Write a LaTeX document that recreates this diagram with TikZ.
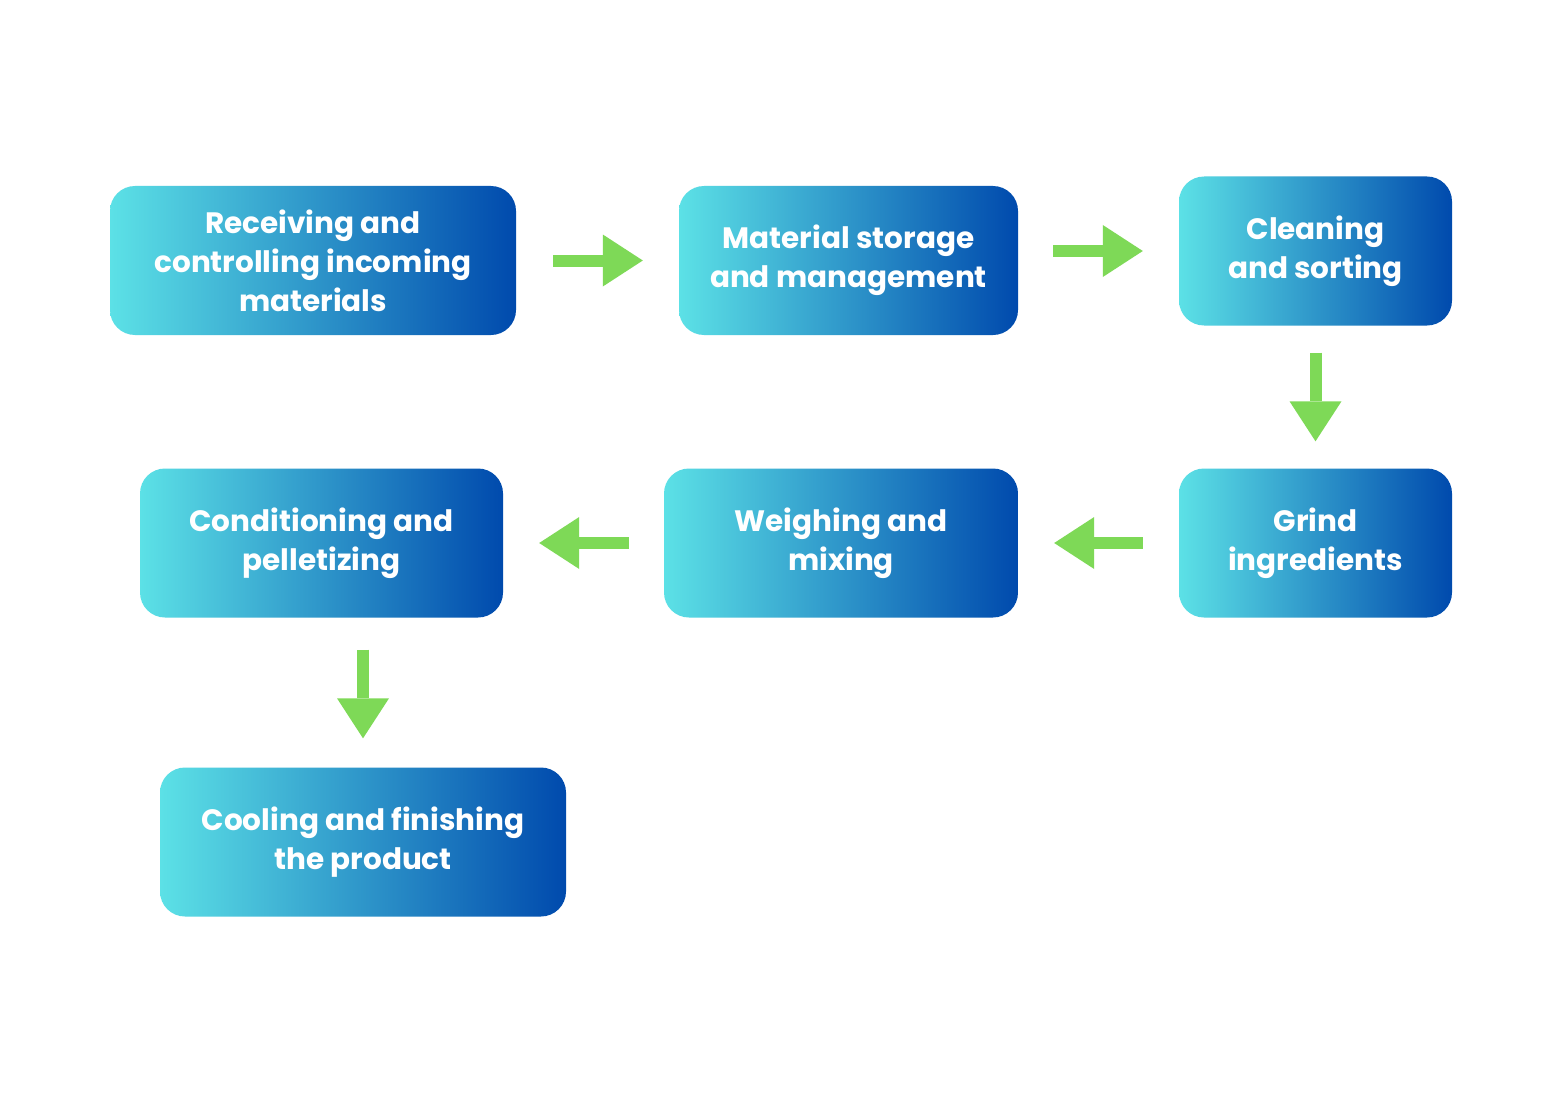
\documentclass[tikz,border=0pt]{standalone}
\usepackage{fontspec}
\setmainfont{Poppins}
\usetikzlibrary{arrows.meta}
\definecolor{tealA}{HTML}{5CE1E6}
\definecolor{navyB}{HTML}{004AAD}
\definecolor{leafG}{HTML}{7ED957}

\begin{document}
\begin{tikzpicture}[x=1pt, y=-1pt,
    stage/.style={rounded corners=25pt, left color=tealA, right color=navyB,
      text=white, font=\bfseries\fontsize{29.5}{39}\selectfont, align=center,
      minimum height=149pt, inner sep=0pt},
    flow/.style={draw=leafG, line width=12pt,
      -{Triangle[length=40pt, width=52pt, line width=0pt]}}]
  \useasboundingbox[fill=white] (0,0) rectangle (1563,1094);
  % process stages
  \node[stage, minimum width=406pt] (recv) at (313,260.5) {Receiving and\\controlling incoming\\materials};
  \node[stage, minimum width=339pt] (store) at (848.5,260.5) {Material storage\\and management};
  \node[stage, minimum width=273pt] (clean) at (1315.5,251) {Cleaning\\and sorting};
  \node[stage, minimum width=273pt] (grind) at (1315.5,543) {Grind\\ingredients};
  \node[stage, minimum width=354pt] (weigh) at (841,543) {Weighing and\\mixing};
  \node[stage, minimum width=363pt] (pellet) at (321.5,543) {Conditioning and\\pelletizing};
  \node[stage, minimum width=406pt] (cool) at (363,842) {Cooling and finishing\\the product};
  % green arrows
  \draw[flow, shorten <=37pt, shorten >=36pt] (recv) -- (store);
  \draw[flow, shorten <=35pt, shorten >=36pt] (store.east |- clean) -- (clean.west);
  \draw[flow, shorten <=27pt, shorten >=27pt] (clean) -- (grind);
  \draw[flow, shorten <=36pt, shorten >=36pt] (grind) -- (weigh);
  \draw[flow, shorten <=35pt, shorten >=36pt] (weigh) -- (pellet);
  \draw[flow, shorten <=32pt, shorten >=29pt] (pellet.south -| cool) -- (cool.north);
\end{tikzpicture}
\end{document}
